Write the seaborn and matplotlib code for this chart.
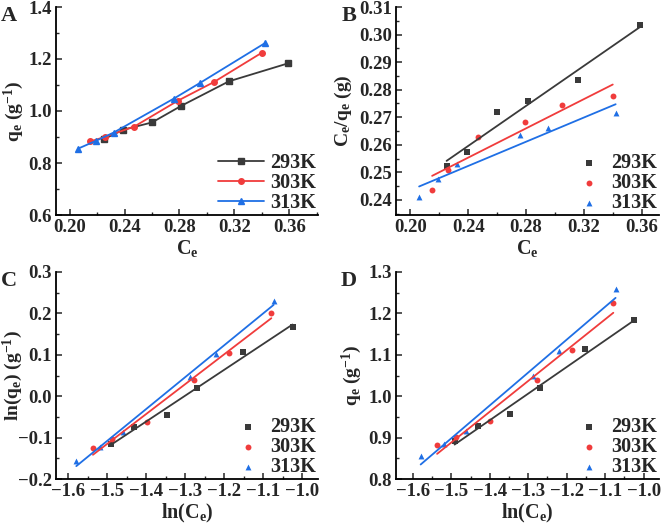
import numpy as np
import matplotlib
matplotlib.use('Agg')
import matplotlib.pyplot as plt
import seaborn as sns
from matplotlib.ticker import AutoMinorLocator, MultipleLocator

temps = ['293K', '303K', '313K']
colors = ['#3a3a3a', '#f03c3c', '#1f6fe5']
markers = ['s', 'o', '^']

# equilibrium concentration and uptake
ce_293 = [0.225, 0.239, 0.260, 0.281, 0.316, 0.359]
qe_293 = [0.892, 0.928, 0.956, 1.019, 1.114, 1.183]
ce_303 = [0.215, 0.226, 0.247, 0.279, 0.305, 0.340]
qe_303 = [0.883, 0.901, 0.940, 1.040, 1.111, 1.224]
ce_313 = [0.206, 0.219, 0.232, 0.276, 0.295, 0.342]
qe_313 = [0.855, 0.885, 0.917, 1.048, 1.108, 1.260]

ce_all = [np.array(ce_293), np.array(ce_303), np.array(ce_313)]
qe_all = [np.array(qe_293), np.array(qe_303), np.array(qe_313)]

sns.set_style('ticks')
plt.rcParams['font.family'] = ['Liberation Serif', 'DejaVu Serif']
plt.rcParams['font.weight'] = 'bold'
plt.rcParams['axes.labelweight'] = 'bold'
plt.rcParams['mathtext.fontset'] = 'custom'
plt.rcParams['mathtext.rm'] = 'Liberation Serif:bold'
plt.rcParams['mathtext.it'] = 'Liberation Serif:bold'
plt.rcParams['mathtext.bf'] = 'Liberation Serif:bold'
plt.rcParams['mathtext.default'] = 'rm'

fig = plt.figure(figsize=(6.61, 5.25), dpi=100)
W, H = 661, 525


def box(l, r, t, b):
    return [l / W, 1 - b / H, (r - l) / W, (b - t) / H]


axA = fig.add_axes(box(56, 318, 7, 215))
axB = fig.add_axes(box(396, 659, 7, 215))
axC = fig.add_axes(box(56, 318, 272, 479))
axD = fig.add_axes(box(396, 659, 272, 479))


def style(ax, xlim, ylim, xstep, ystep, xlabel, ylabel, letter, ylab_x, let_x):
    ax.set_xlim(*xlim)
    ax.set_ylim(*ylim)
    ax.xaxis.set_major_locator(MultipleLocator(xstep))
    ax.yaxis.set_major_locator(MultipleLocator(ystep))
    ax.xaxis.set_minor_locator(AutoMinorLocator(2))
    ax.yaxis.set_minor_locator(AutoMinorLocator(2))
    ax.tick_params(which='major', direction='in', length=4, width=1.1, labelsize=13.5, pad=3)
    ax.tick_params(which='minor', direction='in', length=2, width=1.0)
    for s in ['top', 'right']:
        ax.spines[s].set_visible(False)
    for s in ['left', 'bottom']:
        ax.spines[s].set_linewidth(1.3)
        ax.spines[s].set_color('black')
    ax.set_xlabel(xlabel, fontsize=14.5, labelpad=1)
    ax.set_ylabel(ylabel, fontsize=14)
    ax.yaxis.set_label_coords(ylab_x, 0.5)
    for lab in ax.get_xticklabels() + ax.get_yticklabels():
        lab.set_fontweight('bold')
    ax.text(let_x, 0.955, letter, transform=ax.transAxes, fontsize=16,
            fontweight='bold', ha='center', va='center')


leg_kw = dict(loc='lower right', frameon=False, fontsize=14.5,
              labelspacing=0.0, borderaxespad=0.0, borderpad=0.1)

# A: uptake vs concentration
for ce, qe, c, m, t in zip(ce_all, qe_all, colors, markers, temps):
    axA.plot(ce, qe, color=c, marker=m, markersize=4, linewidth=1.3, label=t)
style(axA, (0.19, 0.381), (0.6, 1.4), 0.04, 0.2, 'C$_e$', 'q$_e$ (g$^{-1}$)', 'A', -0.115, -0.18)
axA.legend(handlelength=2.3, handletextpad=0.3, **leg_kw)

# B: Langmuir
for ce, qe, c, m, t in zip(ce_all, qe_all, colors, markers, temps):
    sns.regplot(x=ce, y=ce / qe, ax=axB, ci=None, color=c, marker=m, label=t,
                scatter_kws={'s': 18, 'linewidths': 0, 'alpha': 1},
                line_kws={'linewidth': 1.3})
style(axB, (0.19, 0.372), (0.2345, 0.31), 0.04, 0.01, 'C$_e$', 'C$_e$/q$_e$ (g)', 'B', -0.158, -0.18)
axB.legend(handlelength=1.0, handletextpad=0.6, **leg_kw)

# C: Freundlich
for ce, qe, c, m, t in zip(ce_all, qe_all, colors, markers, temps):
    sns.regplot(x=np.log(ce), y=np.log(qe), ax=axC, ci=None, color=c, marker=m, label=t,
                scatter_kws={'s': 18, 'linewidths': 0, 'alpha': 1},
                line_kws={'linewidth': 1.3})
style(axC, (-1.632, -0.959), (-0.2, 0.3), 0.1, 0.1, 'ln(C$_e$)', 'ln(q$_e$) (g$^{-1}$)', 'C', -0.12, -0.18)
axC.legend(handlelength=1.0, handletextpad=0.6, **leg_kw)

# D: Temkin
for ce, qe, c, m, t in zip(ce_all, qe_all, colors, markers, temps):
    sns.regplot(x=np.log(ce), y=qe, ax=axD, ci=None, color=c, marker=m, label=t,
                scatter_kws={'s': 18, 'linewidths': 0, 'alpha': 1},
                line_kws={'linewidth': 1.3})
style(axD, (-1.644, -0.96), (0.8, 1.3), 0.1, 0.1, 'ln(C$_e$)', 'q$_e$ (g$^{-1}$)', 'D', -0.12, -0.18)
axD.legend(handlelength=1.0, handletextpad=0.6, **leg_kw)

fig.savefig('out.png', dpi=100)
